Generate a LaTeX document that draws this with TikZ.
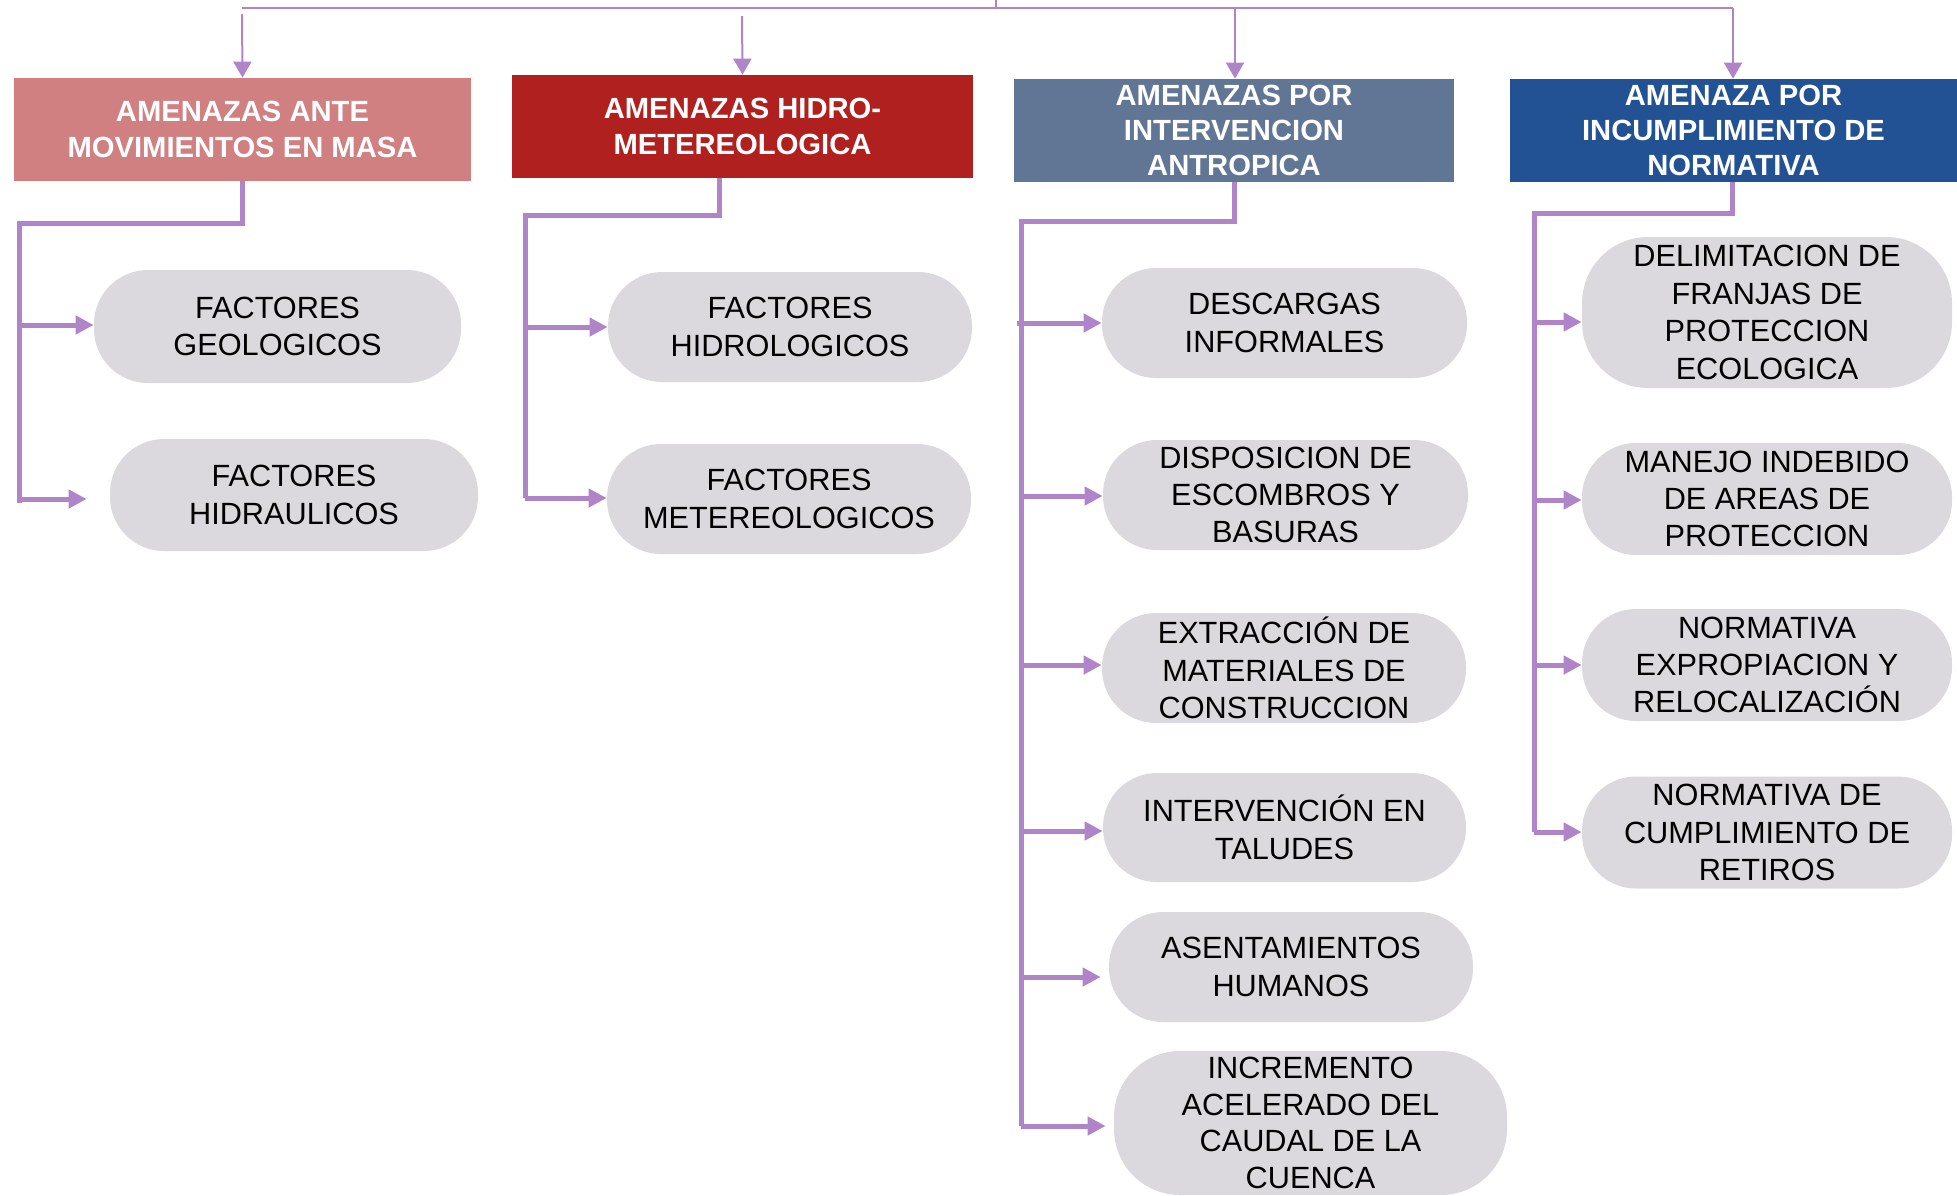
\documentclass[tikz,border=0pt]{standalone}
\usepackage{fontspec}
\setmainfont{Liberation Sans}
\usetikzlibrary{arrows.meta}
\definecolor{lineP}{RGB}{176,132,200}
\definecolor{hA}{RGB}{208,128,128}
\definecolor{hB}{RGB}{176,32,30}
\definecolor{hC}{RGB}{96,118,148}
\definecolor{hD}{RGB}{34,82,148}
\definecolor{pillC}{RGB}{220,217,222}
\begin{document}
\begin{tikzpicture}[x=0.5pt,y=-0.5pt,
  hdr/.style={inner sep=0pt, align=center, text=white, font=\fontsize{14.6}{17.6}\selectfont\bfseries},
  pill/.style={fill=pillC, rounded corners=27pt, inner sep=0pt, align=center, font=\fontsize{15.35}{18.7}\selectfont},
  thinarrow/.style={draw=lineP, line width=1pt, -{Triangle[length=8pt,width=9pt]}},
  thinline/.style={draw=lineP, line width=1pt},
  trunk/.style={draw=lineP, line width=2.5pt},
  branch/.style={draw=lineP, line width=2.5pt, -{Triangle[length=9pt,width=9pt]}}
]
\useasboundingbox (0,0) rectangle (1957,1195);

% headers
\node[hdr, fill=hA, minimum width=228.5pt, minimum height=51.5pt] (h1) at (242.5,129.5) {AMENAZAS ANTE\\MOVIMIENTOS EN MASA};
\node[hdr, fill=hB, minimum width=230.5pt, minimum height=51.5pt] (h2) at (742.5,126.5) {AMENAZAS HIDRO-\\METEREOLOGICA};
\node[hdr, fill=hC, minimum width=220pt, minimum height=51.5pt] (h3) at (1234,130.5) {AMENAZAS POR\\INTERVENCION\\ANTROPICA};
\node[hdr, fill=hD, minimum width=223.5pt, minimum height=51.5pt] (h4) at (1733.5,130.5) {AMENAZA POR\\INCUMPLIMIENTO DE\\NORMATIVA};

% pills column 1
\node[pill, minimum width=183.5pt, minimum height=56.5pt] (p1) at (277.5,326.5) {FACTORES\\GEOLOGICOS};
\node[pill, minimum width=184pt, minimum height=56pt] (p2) at (294,495) {FACTORES\\HIDRAULICOS};
% column 2
\node[pill, minimum width=182pt, minimum height=55pt] (p3) at (790,327) {FACTORES\\HIDROLOGICOS};
\node[pill, minimum width=182pt, minimum height=55pt] (p4) at (789,499) {FACTORES\\METEREOLOGICOS};
% column 3
\node[pill, minimum width=182.5pt, minimum height=55pt] (p5) at (1284.5,323) {DESCARGAS\\INFORMALES};
\node[pill, minimum width=182.5pt, minimum height=55pt] (p6) at (1285.5,495) {DISPOSICION DE\\ESCOMBROS Y\\BASURAS};
\node[pill, minimum width=182pt, minimum height=55pt] (p7) at (1284,668) {EXTRACCIÓN DE\\MATERIALES DE\\CONSTRUCCION};
\node[pill, minimum width=181.5pt, minimum height=54.5pt] (p8) at (1284.5,827.5) {INTERVENCIÓN EN\\TALUDES};
\node[pill, minimum width=182pt, minimum height=55pt] (p9) at (1291,967) {ASENTAMIENTOS\\HUMANOS};
\node[pill, rounded corners=33pt, minimum width=196.5pt, minimum height=72pt, font=\fontsize{15.35}{18.2}\selectfont] (p10) at (1310.5,1123) {INCREMENTO\\ACELERADO DEL\\CAUDAL DE LA\\CUENCA};
% column 4
\node[pill, rounded corners=33pt, minimum width=185pt, minimum height=75.5pt] (p11) at (1767,312.5) {DELIMITACION DE\\FRANJAS DE\\PROTECCION\\ECOLOGICA};
\node[pill, minimum width=185pt, minimum height=56pt] (p12) at (1767,499) {MANEJO INDEBIDO\\DE AREAS DE\\PROTECCION};
\node[pill, minimum width=185pt, minimum height=56pt] (p13) at (1767,665) {NORMATIVA\\EXPROPIACION Y\\RELOCALIZACIÓN};
\node[pill, minimum width=185pt, minimum height=56pt] (p14) at (1767,832.5) {NORMATIVA DE\\CUMPLIMIENTO DE\\RETIROS};

% top connectors
\coordinate (top) at (996,0);
\coordinate (topj) at (996,7.5);
\coordinate (tl) at (242,7.5);
\coordinate (tr) at (1733,7.5);
\coordinate (t3) at (1235,7.5);
\coordinate (a1) at (242,14);
\coordinate (a2) at (742,16);
\draw[thinline] (top) -- (topj);
\draw[thinline] (tl) -- (tr);
\draw[thinarrow] (a1) -- (h1.north);
\draw[thinarrow] (a2) -- (h2.north);
\draw[thinarrow] (t3) -- (h3.north -| t3);
\draw[thinarrow] (tr) -- (h4.north -| tr);

% column 1
\coordinate (k1) at (19,223);
\coordinate (e1) at (19,503);
\draw[trunk] (h1.south) |- (k1) -- (e1);
\draw[branch] (k1 |- 0,325) -- (p1.west |- 0,325);
\draw[branch, shorten >=11.5pt] (k1 |- 0,499) -- (p2.west |- 0,499);

% column 2
\coordinate (k2) at (525,215);
\coordinate (e2) at (525,498);
\draw[trunk] ([xshift=-11.75pt]h2.south) |- (k2) -- (e2);
\draw[branch] (k2 |- 0,327) -- (p3.west |- 0,327);
\draw[branch] (k2 |- 0,498) -- (p4.west |- 0,498);

% column 3
\coordinate (k3) at (1021,221);
\coordinate (e3) at (1021,1126);
\draw[trunk] (h3.south) |- (k3) -- (e3);
\draw[branch] ([xshift=-2pt]k3 |- 0,323) -- (p5.west |- 0,323);
\draw[branch] (k3 |- 0,496) -- (p6.west |- 0,496);
\draw[branch] (k3 |- 0,665) -- (p7.west |- 0,665);
\draw[branch] (k3 |- 0,831) -- (p8.west |- 0,831);
\draw[branch, shorten >=4pt] (k3 |- 0,977) -- (p9.west |- 0,977);
\draw[branch, shorten >=4pt] (k3 |- 0,1126) -- (p10.west |- 0,1126);

% column 4
\coordinate (k4) at (1534,213);
\coordinate (e4) at (1534,832);
\draw[trunk] (h4.south -| 1732,0) |- (k4) -- (e4);
\draw[branch] (k4 |- 0,322) -- (p11.west |- 0,322);
\draw[branch] (k4 |- 0,500) -- (p12.west |- 0,500);
\draw[branch] (k4 |- 0,665) -- (p13.west |- 0,665);
\draw[branch] (k4 |- 0,832) -- (p14.west |- 0,832);
\end{tikzpicture}
\end{document}
